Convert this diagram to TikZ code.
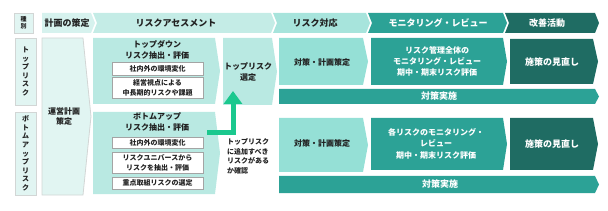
\documentclass[tikz,border=0pt]{standalone}
\usepackage{fontspec}
\setmainfont{Noto Sans CJK JP}
\usetikzlibrary{arrows.meta}
\definecolor{hdA}{HTML}{D6F2EE}
\definecolor{hdB}{HTML}{C4ECE6}
\definecolor{hdC}{HTML}{A7E4DC}
\definecolor{tealM}{HTML}{2CA296}
\definecolor{tealD}{HTML}{1F6C63}
\definecolor{pale}{HTML}{E1F5F2}
\definecolor{lightB}{HTML}{B9E9E2}
\definecolor{midB}{HTML}{95E0D6}
\definecolor{grnA}{HTML}{1BC88E}
\definecolor{edgeL}{HTML}{D2D6D5}
\definecolor{edgeW}{HTML}{A4A4A4}
\definecolor{txtD}{HTML}{222222}
\newcommand\chevR[6]{%
  \path[#1] (#2,#3) -- ({#4-#6},#3) -- (#4,{(#3+#5)/2}) -- ({#4-#6},#5) -- (#2,#5) -- cycle;}
\newcommand\chevN[6]{%
  \path[#1] (#2,#3) -- ({#4-#6},#3) -- (#4,{(#3+#5)/2}) -- ({#4-#6},#5) -- (#2,#5) -- ({#2+#6},{(#3+#5)/2}) -- cycle;}
\tikzset{
  hdtxt/.style={font=\fontsize{9}{11}\selectfont\bfseries, text=txtD, inner sep=0pt},
  hdtxtW/.style={hdtxt, text=white},
  btxt/.style={font=\fontsize{8}{10.5}\selectfont\bfseries, text=txtD, align=center, inner sep=0pt},
  btxtW/.style={btxt, text=white},
  bigW/.style={font=\fontsize{9}{11}\selectfont\bfseries, text=white, align=center, inner sep=0pt},
  stxt/.style={font=\fontsize{7}{10}\selectfont\bfseries, text=txtD, align=center, inner sep=0pt},
  vtxt/.style={font=\fontsize{7}{8.6}\selectfont\bfseries, text=txtD, align=center, inner sep=0pt},
  wbox/.style={fill=white, draw=edgeW, line width=0.8pt},
  lbox/.style={fill=pale, draw=edgeL, line width=0.8pt},
  garrow/.style={draw=grnA, line width=5pt, line cap=butt, line join=miter,
    -{Triangle[length=13pt,width=18pt]}, grnA},
}
\begin{document}
\begin{tikzpicture}[x=1pt,y=-1pt]
\useasboundingbox (0,0) rectangle (608,211);
% ---------- header row ----------
\path[lbox] (14,13) rectangle (33,33);
\node[font=\fontsize{6}{7}\selectfont\bfseries, text=txtD, align=center, inner sep=0pt] (hkind) at (23.5,23) {種\\別};
\chevR{fill=hdA}{42}{13}{95}{33}{4}
\node[hdtxt] (hplan) at (67,23) {計画の策定};
\chevN{fill=hdB}{93}{13}{275}{33}{4}
\node[hdtxt] (hassess) at (176,23) {リスクアセスメント};
\chevN{fill=hdC}{273}{13}{370}{33}{4}
\node[hdtxt] (hresp) at (315,23) {リスク対応};
\chevN{fill=tealM}{368}{13}{507}{33}{4}
\node[hdtxtW] (hmon) at (438,23) {モニタリング・レビュー};
\chevN{fill=tealD}{505}{13}{599}{33}{4}
\node[hdtxtW] (himp) at (547,23) {改善活動};
% ---------- left labels ----------
\path[lbox] (15,38) rectangle (36,105);
\node[vtxt] (ltop) at (25.5,71.5) {ト\\ッ\\プ\\リ\\ス\\ク};
\path[lbox] (15,112) rectangle (36,195);
\node[vtxt] (lbot) at (25.5,153.5) {ボ\\ト\\ム\\ア\\ッ\\プ\\リ\\ス\\ク};
% ---------- plan ----------
\chevR{fill=pale, draw=edgeL, line width=0.8pt}{42}{38}{91}{195}{8}
\node[btxt] (plan) at (64,116.5) {運営計画\\策定};
% ---------- top-down ----------
\chevR{fill=lightB}{93}{38}{220}{104}{5}
\node[btxt] (td) at (157,50) {トップダウン\\リスク抽出・評価};
\path[wbox] (112,62) rectangle (203,75);
\node[stxt] (td1) at (157.5,68.5) {社内外の環境変化};
\path[wbox] (112,77) rectangle (203,98);
\node[stxt] (td2) at (157.5,87.5) {経営視点による\\中長期的リスクや課題};
% ---------- bottom-up ----------
\chevR{fill=lightB}{93}{112}{220}{194}{5}
\node[btxt] (bu) at (157,122) {ボトムアップ\\リスク抽出・評価};
\path[wbox] (112,137) rectangle (203,148);
\node[stxt] (bu1) at (157.5,142.5) {社内外の環境変化};
\path[wbox] (112,152) rectangle (203,173);
\node[stxt] (bu2) at (157.5,162.5) {リスクユニバースから\\リスクを抽出・評価};
\path[wbox] (112,177) rectangle (203,189);
\node[stxt] (bu3) at (157.5,183) {重点取組リスクの選定};
% ---------- top risk selection ----------
\chevR{fill=lightB}{223}{38}{277}{105}{5}
\node[btxt] (sel) at (248,72) {トップリスク\\選定};
\node[font=\fontsize{7}{9.5}\selectfont\bfseries, text=txtD, align=left, anchor=north west, inner sep=0pt] (chk) at (227,138.5) {トップリスク\\に追加すべき\\リスクがある\\か確認};
\coordinate (a0) at (207,132.5);
\coordinate (a1) at (233,91);
\draw[garrow] (a0) -| (a1);
% ---------- response ----------
\chevR{fill=midB}{279}{38}{368}{85}{5}
\node[btxt] (r1) at (322,62) {対策・計画策定};
\chevR{fill=midB}{279}{118}{368}{172}{5}
\node[btxt] (r2) at (322,143) {対策・計画策定};
% ---------- monitoring ----------
\chevR{fill=tealM}{371}{38}{507}{85}{4}
\node[btxtW, font=\fontsize{8}{11}\selectfont\bfseries] (m1) at (437,61.5) {リスク管理全体の\\モニタリング・レビュー\\期中・期末リスク評価};
\chevR{fill=tealM}{371}{118}{507}{170}{4}
\node[btxtW, font=\fontsize{8}{11.5}\selectfont\bfseries] (m2) at (436,143.5) {各リスクのモニタリング・\\レビュー\\期中・期末リスク評価};
% ---------- improvement ----------
\chevR{fill=tealD}{510}{39}{598}{84}{5}
\node[bigW] (i1) at (552,62) {施策の見直し};
\chevR{fill=tealD}{510}{118}{598}{170}{5}
\node[bigW] (i2) at (552,144) {施策の見直し};
% ---------- implementation bars ----------
\chevR{fill=tealM}{279}{89}{599}{104}{4}
\node[bigW] (e1) at (439,96.5) {対策実施};
\chevR{fill=tealM}{279}{176}{599}{193}{4}
\node[bigW] (e2) at (440,184.5) {対策実施};
\end{tikzpicture}
\end{document}
